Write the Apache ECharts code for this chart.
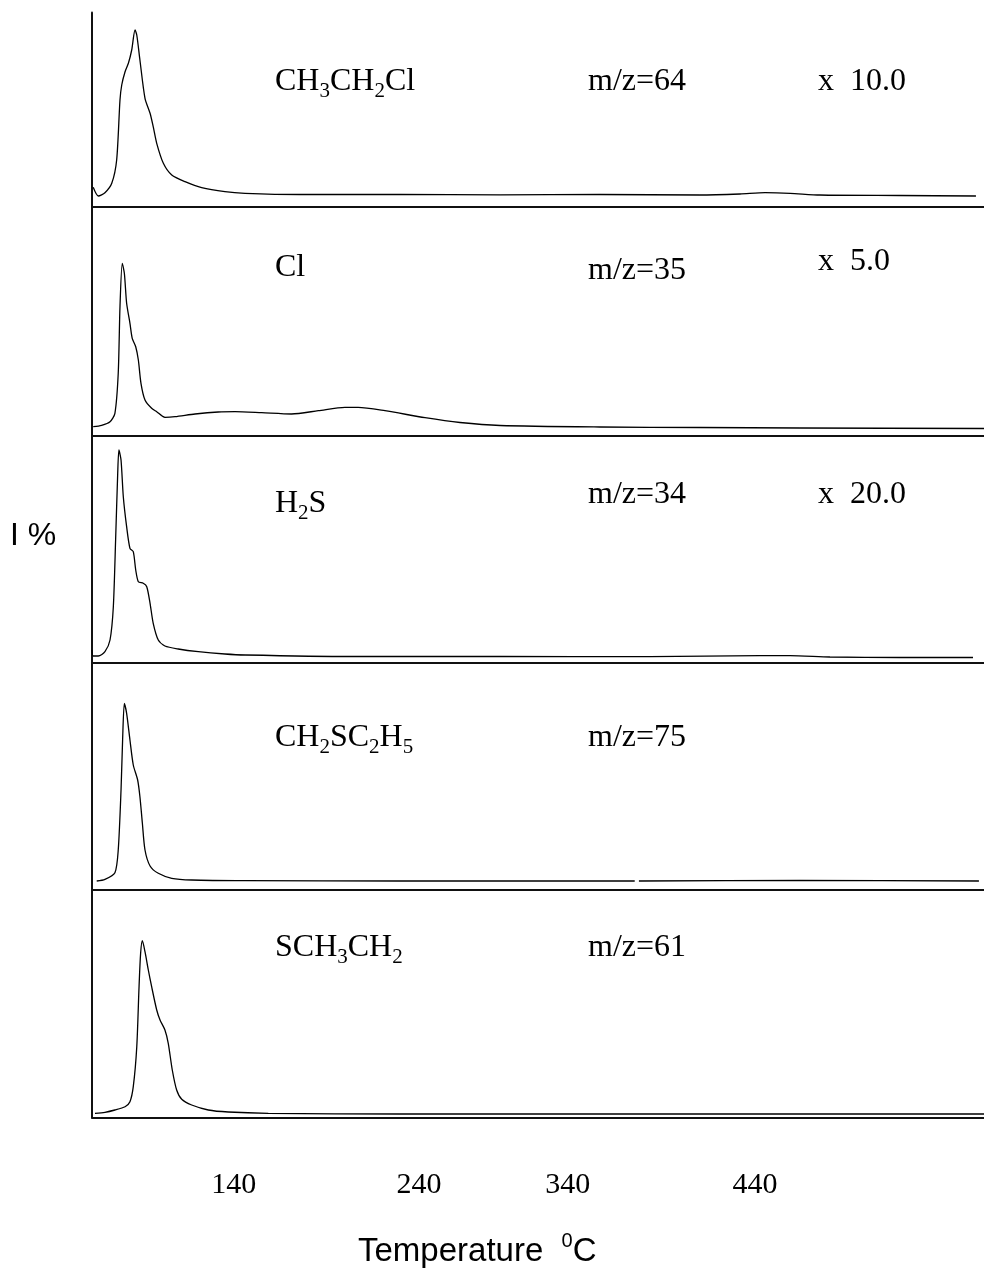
<!DOCTYPE html>
<html><head><meta charset="utf-8">
<script src="https://cdn.jsdelivr.net/npm/echarts@6/dist/echarts.min.js"></script>
<style>html,body{margin:0;padding:0;background:#fff}#c{width:984px;height:1281px}</style>
</head><body><div id="c"></div>
<script>
// ---- data (temperature in °C, intensity in arbitrary units above each baseline) ----
const t1 = [61.7,64.6,68.4,72.3,75.1,77.0,78.0,79.9,81.8,83.7,85.6,86.6,88.4,91.3,94.2,96.0,98.0,101.8,106.6,114.2,123.7,137.0,148.5,179.9,237.1,294.3,351.4,408.6,431.5,445.8,460.1,477.2,522.9,566.4];
const i1 = [19.2,10.5,13.8,23.2,46.5,106.5,121.5,134.8,143.2,156.5,176.5,171.5,146.5,108.2,93.2,79.8,63.2,43.2,31.5,24.8,18.8,14.8,13.2,12,12,11.7,12,11.5,12.5,13.8,13.2,11.5,11,10.5];
const t2 = [61.7,66.5,71.3,74.1,76.0,77.0,78.3,79.5,80.8,82.7,84.0,86.0,87.5,89.0,91.3,95.1,98.0,102.7,108.5,119.9,133.2,142.8,158.0,175.1,190.4,205.6,213.2,228.5,251.4,271.4,294.3,351.4,408.6,465.8,571];
const i2 = [8.8,10.2,13.8,22.2,62.2,128.8,172.2,162.2,132.2,112.2,97.2,88.8,75.5,52.2,35.5,27.2,23.8,18.2,18.8,21.5,23.5,23.8,22.8,21.5,24.8,28.2,28.2,24.8,17.8,13,10,8.5,8,7.5,7];
const t3 = [61,61.7,64.6,68.4,71.3,73.2,74.5,75.7,76.4,77.6,78.9,80.8,82.7,84.6,86.0,87.5,90.3,92.3,94.2,96.0,98.9,102.7,110.3,121.8,137.0,148.5,208.5,294.3,380,442.9,460.1,482.9,522.9,564.7];
const i3 = [12.5,6.5,6.5,10.8,22.5,55.8,122.5,189.2,212.5,202.5,165.8,135.8,114.2,110.8,92.5,80.8,79.2,75.8,59.2,39.2,22.5,16.5,13.5,10.8,8.5,7.5,6,6,5.8,6.8,6.8,5.5,5,5];
const t4 = [63.7,68.4,74.1,76.0,77.6,78.5,79.5,80.8,82.7,84.6,87.1,88.4,89.8,91.3,94.2,98.9,106.6,118.0,148.5,237.1,371.3,372.5,373.7,465.8,568.1];
const i4 = [9,10.7,17.3,40,100,150,186.7,176.7,150,125,110,93.3,66.7,40,24,16.7,11.7,10,9.3,9,9,null,9,9.5,9];
const t5 = [62.7,68.4,74.1,79.9,82.7,84.6,86.6,87.9,88.8,89.8,91.3,93.2,95.1,98.0,99.9,102.7,104.6,106.9,109.4,112.3,118.0,127.5,138.9,161.8,237.1,351.4,571];
const i5 = [4.2,5.2,7.5,10.8,15.8,30.8,70.8,130.8,164.2,176.8,165.8,147.5,130.8,107.5,97.5,87.5,74.2,47.5,27.5,18.2,12.5,7.5,5.5,4.2,3.5,3.5,3.5];

const species = ['CH3CH2Cl','Cl','H2S','CH2SC2H5','SCH3CH2'];
const mzLabels = ['m/z=64','m/z=35','m/z=34','m/z=75','m/z=61'];
const factors = ['x  10.0','x  5.0','x  20.0','',''];
const tickLabels = ['140','240','340','440'];
const tickValues = [142,248,333,440];
const xTitle = 'Temperature';
const yTitle = 'I %';

// ---- layout ----
const temps = [t1,t2,t3,t4,t5];
const ints = [i1,i2,i3,i4,i5];
const panelTop = [12.5,206.5,435.5,662.5,890];
const panelBot = [206.5,435.5,662.5,890,1117.5];
const specY = [82,268,504,738,948];
const mzY = [82,271,495,738,948];
const facY = [82,262,495,0,0];
const serif = 'Liberation Serif, Times New Roman, serif';
const sans = 'Liberation Sans, Arial, sans-serif';

const chart = echarts.init(document.getElementById('c'), null, {renderer:'canvas'});
const grids=[], xAxes=[], yAxes=[], series=[], graphics=[];
const axisLine = {show:true, onZero:false, lineStyle:{color:'#111', width:2}};
for (let k=0;k<5;k++){
  const H = panelBot[k]-panelTop[k];
  grids.push({left:92, right:0, top:panelTop[k], height:H, outerBoundsMode:'none', containLabel:false});
  xAxes.push({type:'value', gridIndex:k, min:61, max:571, axisLine,
    axisTick:{show:false}, splitLine:{show:false},
    axisLabel: k===4 ? {show:true, customValues:tickValues, margin:53, color:'#000',
      fontFamily:serif, fontSize:30, lineHeight:30,
      formatter:(v)=>{let b=0;for(let j=1;j<tickValues.length;j++){if(Math.abs(tickValues[j]-v)<Math.abs(tickValues[b]-v))b=j;}return tickLabels[b];}}
      : {show:false}});
  yAxes.push({type:'value', gridIndex:k, min:0, max:H, axisLine,
    axisTick:{show:false}, axisLabel:{show:false}, splitLine:{show:false}});
  series.push({type:'line', xAxisIndex:k, yAxisIndex:k, symbol:'none', showSymbol:false,
    smooth:0.25, connectNulls:false, silent:true,
    lineStyle:{color:'#000', width:1.3},
    data: temps[k].map((t,j)=>[t, ints[k][j]===null?'-':ints[k][j]])});
  const rich = species[k].replace(/([A-Za-z]+)|(\d+)/g,(m,a,d)=> a?('{n|'+a+'}'):('{s|'+d+'}'));
  graphics.push({type:'text', x:275, y:specY[k], silent:true, style:{text:rich, align:'left', verticalAlign:'middle',
    rich:{n:{fontFamily:serif,fontSize:32,lineHeight:40,fill:'#000'}, s:{fontFamily:serif,fontSize:21,lineHeight:26,verticalAlign:'bottom',fill:'#000'}}}});
  graphics.push({type:'text', x:588, y:mzY[k], silent:true, style:{text:mzLabels[k], fontFamily:serif, fontSize:32, fill:'#000', align:'left', verticalAlign:'middle'}});
  if (factors[k]) graphics.push({type:'text', x:818, y:facY[k], silent:true, style:{text:factors[k], fontFamily:serif, fontSize:32, fill:'#000', align:'left', verticalAlign:'middle'}});
}
graphics.push({type:'text', x:10, y:536, silent:true, style:{text:yTitle, fontFamily:sans, fontSize:32, fill:'#000', align:'left', verticalAlign:'middle'}});
graphics.push({type:'text', x:358, y:1252, silent:true, style:{text:'{a|'+xTitle+'  }{p|0}{a|C}', align:'left', verticalAlign:'middle',
  rich:{a:{fontFamily:sans,fontSize:33,lineHeight:42,fill:'#000'}, p:{fontFamily:sans,fontSize:20,lineHeight:26,verticalAlign:'top',fill:'#000'}}}});

chart.setOption({animation:false, backgroundColor:'#fff', grid:grids, xAxis:xAxes, yAxis:yAxes, series, graphic:graphics});
</script></body></html>
